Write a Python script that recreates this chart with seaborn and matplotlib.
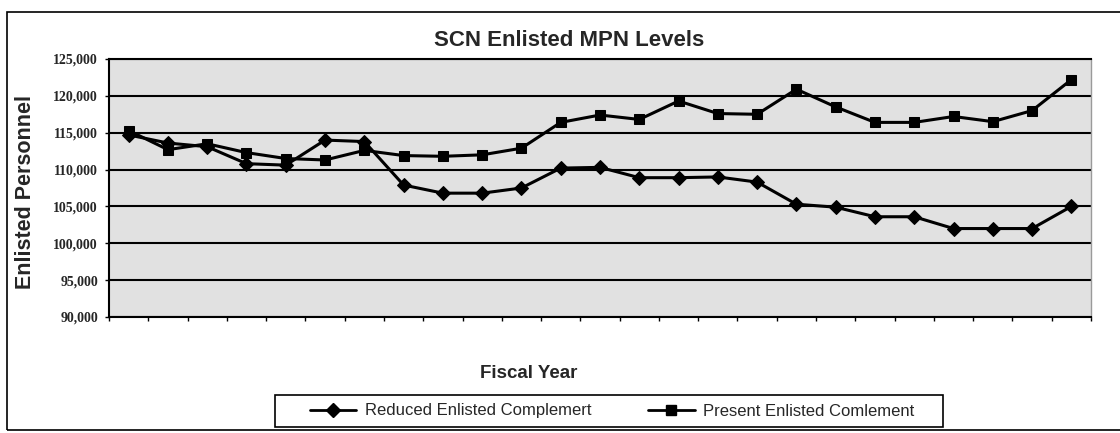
import numpy as np
import pandas as pd
import matplotlib
matplotlib.use("Agg")
import matplotlib.pyplot as plt
import seaborn as sns
from matplotlib.patches import Rectangle
from matplotlib.lines import Line2D

# Data (x axis has no labels, just 25 fiscal-year slots)
periods = list(range(1, 26))
reduced = [114700, 113600, 113100, 110800, 110600, 114000, 113800, 107900,
           106800, 106800, 107500, 110200, 110300, 108900, 108900, 109000,
           108300, 105300, 104900, 103600, 103600, 102000, 102000, 102000,
           105000]
present = [115300, 112700, 113500, 112300, 111500, 111300, 112600, 111900,
           111800, 112000, 112900, 116400, 117400, 116800, 119300, 117600,
           117500, 120900, 118500, 116400, 116400, 117200, 116500, 118000,
           122200]
series_names = ["Reduced Enlisted Complemert", "Present Enlisted Comlement"]
y_ticks = [90000, 95000, 100000, 105000, 110000, 115000, 120000, 125000]

df = pd.DataFrame({
    "period": periods * 2,
    "value": reduced + present,
    "series": [series_names[0]] * len(periods) + [series_names[1]] * len(periods),
})

sns.set_style("white")
plt.rcParams['font.family'] = ['Liberation Sans', 'DejaVu Sans']

W, H = 1120, 433
fig = plt.figure(figsize=(W / 100, H / 100), dpi=100)
ax = fig.add_axes([109 / W, 1 - 317 / H, (1091 - 109) / W, (317 - 59) / H])
ax.set_facecolor('#e1e1e1')

markers = {series_names[0]: 'D', series_names[1]: 's'}
sns.lineplot(data=df, x="period", y="value", hue="series", style="series",
             markers=markers, dashes=False,
             palette={n: 'black' for n in series_names},
             linewidth=2.2, markersize=7.5, markeredgecolor='black',
             ax=ax, legend=False, zorder=3)

# axes
ax.set_xlim(0.5, len(periods) + 0.5)
ax.set_ylim(y_ticks[0], y_ticks[-1])
ax.set_xticks(np.arange(0.5, len(periods) + 1, 1))
ax.set_xticklabels([])
ax.set_yticks(y_ticks)
ax.set_yticklabels([f"{v:,}" for v in y_ticks], family='Liberation Serif',
                   fontsize=10, fontweight='bold')
ax.tick_params(axis='both', which='major', direction='out', length=3,
               width=1, color='black', left=True, bottom=True)
ax.tick_params(axis='y', pad=5)
ax.set_xlabel("")
ax.set_ylabel("")
ax.set_axisbelow(True)
ax.yaxis.grid(True, color='black', linewidth=1.5)
ax.xaxis.grid(False)
for side in ['left', 'bottom', 'top']:
    ax.spines[side].set_color('black')
    ax.spines[side].set_linewidth(1.5)
ax.spines['right'].set_color('#9a9a9a')
ax.spines['right'].set_linewidth(1)

# texts
fig.text(569 / W, 1 - 40 / H, "SCN Enlisted MPN Levels", ha='center',
         va='center', fontsize=16, fontweight='bold')
fig.text(26 / W, 1 - 192 / H, "Enlisted Personnel", ha='center',
         va='center', rotation=90, fontsize=15.5, fontweight='bold')
fig.text(529 / W, 1 - 374 / H, "Fiscal Year", ha='center', va='center',
         fontsize=13.5, fontweight='bold')

# legend: entries without frame, box drawn separately to match the padding
handles = [Line2D([], [], color='black', lw=2, marker=markers[n],
                  markersize=7, markeredgecolor='black') for n in series_names]
fig.legend(handles, series_names, loc='center', ncol=2,
           bbox_to_anchor=(612 / W, 1 - 411 / H), fontsize=12,
           frameon=False, handlelength=2.8, handletextpad=0.5,
           columnspacing=3.4)
fig.add_artist(Rectangle((275 / W, 1 - 427 / H), (943 - 275) / W,
                         (427 - 395) / H, transform=fig.transFigure,
                         fill=False, edgecolor='black', linewidth=1.2))

# outer chart-area border (right edge runs off the scan)
fig.add_artist(Rectangle((7 / W, 3 / H), 1.2, (430 - 12) / H,
                         transform=fig.transFigure, fill=False,
                         edgecolor='black', linewidth=1.2))

fig.savefig("out.png", dpi=100)
